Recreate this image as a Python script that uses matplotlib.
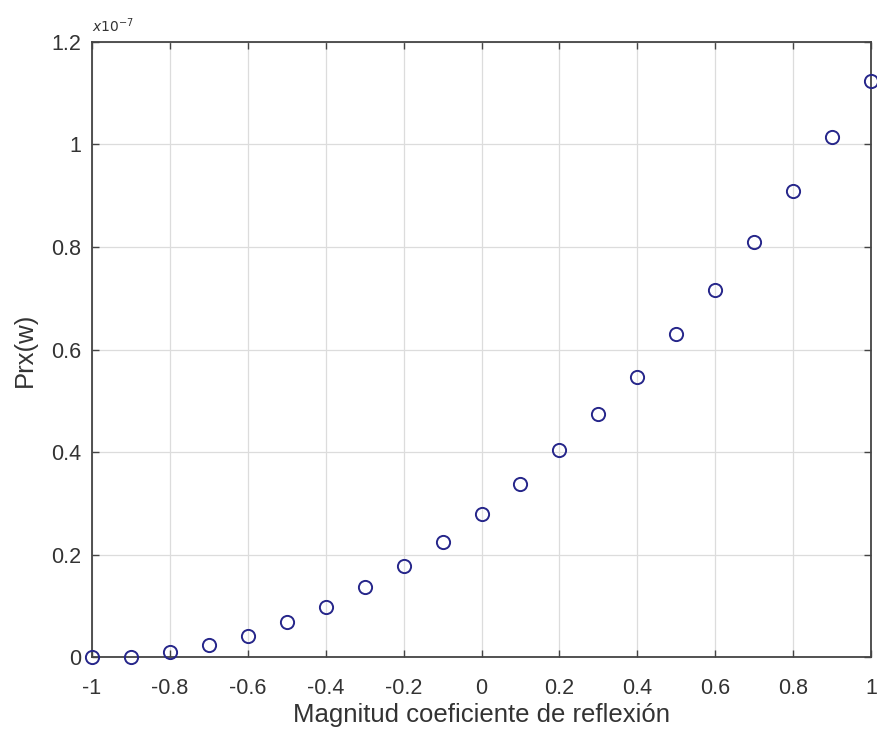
import numpy as np
import matplotlib.pyplot as plt
from matplotlib.ticker import FuncFormatter

plt.rcParams['font.family'] = ['Liberation Sans', 'DejaVu Sans']

# coeficiente de reflexion y potencia recibida (en unidades de 1e-7 W)
gamma = [-1.0, -0.9, -0.8, -0.7, -0.6, -0.5, -0.4, -0.3, -0.2, -0.1, 0.0,
         0.1, 0.2, 0.3, 0.4, 0.5, 0.6, 0.7, 0.8, 0.9, 1.0]
prx_e7 = [0.001, 0.0, 0.010, 0.023, 0.041, 0.068, 0.098, 0.137, 0.178, 0.225, 0.280,
          0.337, 0.404, 0.474, 0.547, 0.630, 0.716, 0.810, 0.909, 1.015, 1.124]
x_ticks = [-1, -0.8, -0.6, -0.4, -0.2, 0, 0.2, 0.4, 0.6, 0.8, 1]
y_ticks = [0, 0.2, 0.4, 0.6, 0.8, 1.0, 1.2]

prx = np.array(prx_e7) * 1e-7

fig = plt.figure(figsize=(8.77, 7.43), dpi=100)
ax = fig.add_axes([0.1049, 0.1157, 0.8883, 0.8278])

ax.plot(gamma, prx, 'o', mfc='none', mec='#26268a', ms=9.5, mew=1.4, clip_on=False, zorder=3)

ax.set_xlim(-1, 1)
ax.set_ylim(0, 1.2e-7)
ax.set_xticks(x_ticks)
ax.set_yticks(np.array(y_ticks) * 1e-7)
ax.xaxis.set_major_formatter(FuncFormatter(lambda v, p: f"{v:g}"))
ax.yaxis.set_major_formatter(FuncFormatter(lambda v, p: f"{round(v * 1e7, 3):g}"))

ax.grid(True, color='#dcdcdc', linewidth=0.9)
ax.set_axisbelow(True)
for s in ax.spines.values():
    s.set_color('#444444')
    s.set_linewidth(1.3)
ax.tick_params(direction='in', length=5, width=1, colors='#444444', labelcolor='#333333',
               labelsize=15.5, top=True, right=True)
ax.tick_params(axis='x', pad=15)
ax.tick_params(axis='y', pad=8)

ax.set_xlabel('Magnitud coeficiente de reflexión', fontsize=18.5, color='#333333', labelpad=3)
ax.set_ylabel('Prx(w)', fontsize=18.5, color='#333333', labelpad=10)
ax.text(0.0, 1.012, r'$x10^{-7}$', transform=ax.transAxes, fontsize=10,
        style='italic', color='#333333', ha='left', va='bottom')

fig.savefig('out.png', dpi=100)
